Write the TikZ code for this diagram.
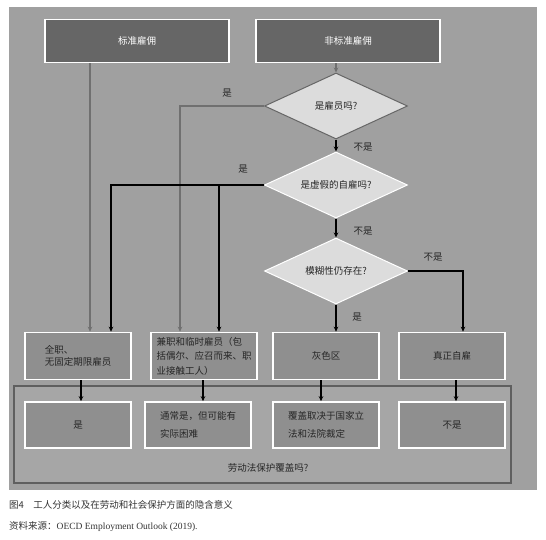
\documentclass[tikz,border=0pt]{standalone}
\usepackage{fontspec}
\setmainfont{Noto Sans CJK SC}
\newfontfamily\latinfont{Liberation Serif}
\usetikzlibrary{shapes.geometric,arrows.meta}
\definecolor{bggray}{HTML}{A0A0A0}
\definecolor{topgray}{HTML}{666666}
\definecolor{boxgray}{HTML}{8F8F8F}
\definecolor{diagray}{HTML}{DCDCDC}
\definecolor{framegray}{HTML}{5F5F5F}
\definecolor{linegray}{HTML}{707070}
\definecolor{innergray}{HTML}{A6A6A6}
\begin{document}
\begin{tikzpicture}[>={Stealth[length=5pt,width=4.5pt]}, x=1pt, y=-1pt,
  every node/.style={font=\fontsize{9.5}{12}\selectfont},
  topbox/.style={draw=white, line width=1.6pt, fill=topgray, text=white,
    minimum width=184pt, minimum height=43pt, inner sep=0pt},
  decision/.style={diamond, draw, fill=diagray, line width=1pt, text=black!85,
    aspect=2.2, minimum width=143pt, minimum height=66pt, inner sep=0pt},
  catbox/.style={draw=white, line width=1.6pt, fill=boxgray, text=black!85,
    minimum width=106pt, minimum height=47pt, inner sep=0pt, align=left},
  graylink/.style={->, draw=linegray, line width=1.4pt},
  blacklink/.style={->, draw=black, line width=1.6pt},
  lbl/.style={text=black!85}]
\useasboundingbox (0,0) rectangle (546,539);
\fill[bggray] (9,7) rectangle (537,490);

\node[topbox] (std) at (137,41) {标准雇佣};
\node[topbox] (nonstd) at (348,41) {非标准雇佣};

\node[decision, draw=topgray] (q1) at (336,106) {是雇员吗?};
\node[decision, draw=white] (q2) at (336,185) {是虚假的自雇吗?};
\node[decision, draw=white] (q3) at (336,271) {模糊性仍存在?};

\node[catbox] (c1) at (78,356) {全职、\\无固定期限雇员};
\node[catbox, font=\fontsize{9.5}{14.5}\selectfont] (c2) at (204,356) {兼职和临时雇员（包\\括偶尔、应召而来、职\\业接触工人）};
\node[catbox] (c3) at (326,356) {灰色区};
\node[catbox] (c4) at (452,356) {真正自雇};

% coverage frame
\draw[framegray, fill=innergray, line width=1.4pt] (14,386) rectangle (511,483);
\node[lbl] (cover) at (268,468) {劳动法保护覆盖吗?};

\node[catbox, minimum height=46pt] (r1) at (78,425) {是};
\node[catbox, minimum height=46pt, font=\fontsize{9.5}{18}\selectfont] (r2) at (198,425) {通常是，但可能有\\实际困难};
\node[catbox, minimum height=46pt, font=\fontsize{9.5}{18}\selectfont] (r3) at (326,425) {覆盖取决于国家立\\法和法院裁定};
\node[catbox, minimum height=46pt] (r4) at (452,425) {不是};

\draw[graylink] (std.south -| 90,0) -- (c1.north -| 90,0);
\draw[graylink] (nonstd.south -| q1.north) -- (q1.north);
\draw[graylink] (q1.west) -| (c2.north -| 180,0);
\draw[blacklink] (q1.south) -- (q2.north);
\draw[blacklink] (q2.south) -- (q3.north);
\draw[blacklink] (q2.west) -| (c1.north -| 111,0);
\draw[blacklink] (q2.west -| 219,0) -- (c2.north -| 219,0);
\draw[blacklink] (q3.east) -| (c4.north -| 463,0);
\draw[blacklink] (q3.south) -- (c3.north -| q3.south);

\draw[blacklink] (c1.south -| 81,0) -- (r1.north -| 81,0);
\draw[blacklink] (c2.south -| 203,0) -- (r2.north -| 203,0);
\draw[blacklink] (c3.south -| 321,0) -- (r3.north -| 321,0);
\draw[blacklink] (c4.south -| 456,0) -- (r4.north -| 456,0);

\node[lbl] (yes1) at (227,93) {是};
\node[lbl] (no1) at (363,147) {不是};
\node[lbl] (yes2) at (243,169) {是};
\node[lbl] (no2) at (363,231) {不是};
\node[lbl] (no3) at (433,257) {不是};
\node[lbl] (yes3) at (357,317) {是};

\node[anchor=west, inner sep=0pt, text=black!80] (cap) at (9,505) {图4\quad 工人分类以及在劳动和社会保护方面的隐含意义};
\node[anchor=west, inner sep=0pt, text=black!80] (src) at (9,527) {资料来源：{\latinfont OECD Employment Outlook (2019).}};
\end{tikzpicture}
\end{document}
